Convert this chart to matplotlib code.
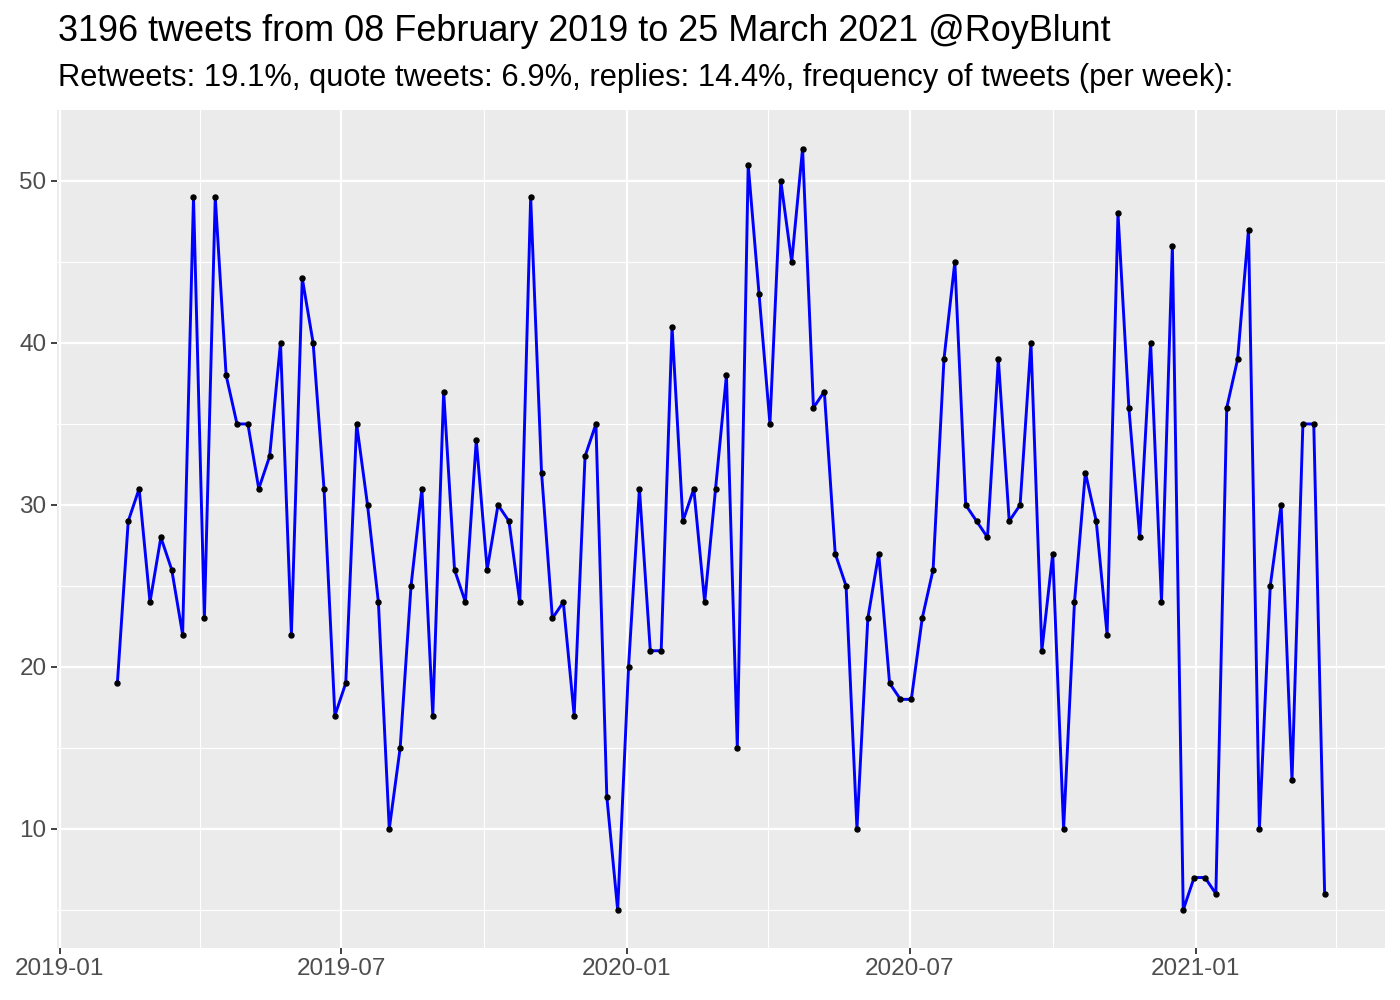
import numpy as np
import pandas as pd
import matplotlib
matplotlib.use("Agg")
import matplotlib.pyplot as plt
import matplotlib.dates as mdates

plt.rcParams['font.family'] = ['Liberation Sans', 'DejaVu Sans']

title = "3196 tweets from 08 February 2019 to 25 March 2021 @RoyBlunt"
subtitle = "Retweets: 19.1%, quote tweets: 6.9%, replies: 14.4%, frequency of tweets (per week):"

first_week = "2019-02-07"
tweets_per_week = [
    19, 29, 31, 24, 28, 26, 22, 49, 23, 49,
    38, 35, 35, 31, 33, 40, 22, 44, 40, 31,
    17, 19, 35, 30, 24, 10, 15, 25, 31, 17,
    37, 26, 24, 34, 26, 30, 29, 24, 49, 32,
    23, 24, 17, 33, 35, 12, 5, 20, 31, 21,
    21, 41, 29, 31, 24, 31, 38, 15, 51, 43,
    35, 50, 45, 52, 36, 37, 27, 25, 10, 23,
    27, 19, 18, 18, 23, 26, 39, 45, 30, 29,
    28, 39, 29, 30, 40, 21, 27, 10, 24, 32,
    29, 22, 48, 36, 28, 40, 24, 46, 5, 7,
    7, 6, 36, 39, 47, 10, 25, 30, 13, 35,
    35, 6,
]
weeks = pd.date_range(first_week, periods=len(tweets_per_week), freq="7D")

x_major = pd.to_datetime(["2019-01-01", "2019-07-01", "2020-01-01", "2020-07-01", "2021-01-01"])
x_minor = pd.to_datetime(["2019-04-01", "2019-10-01", "2020-04-01", "2020-10-01", "2021-04-01"])
y_major = [10, 20, 30, 40, 50]
y_minor = [5, 15, 25, 35, 45]

fig = plt.figure(figsize=(14, 10), dpi=100)
ax = fig.add_axes([57/1400, 52/1000, (1385-57)/1400, (948-110.5)/1000])
ax.set_facecolor("#EBEBEB")
for s in ax.spines.values():
    s.set_visible(False)

ax.plot(weeks, tweets_per_week, color="#0000FF", lw=2.1, zorder=3)
ax.plot(weeks, tweets_per_week, 'o', color="black", ms=3.6, zorder=4)

ax.margins(x=0.05, y=0.05)
ax.set_xticks(x_major)
ax.set_xticks(x_minor, minor=True)
ax.xaxis.set_major_formatter(mdates.DateFormatter("%Y-%m"))
ax.set_yticks(y_major)
ax.set_yticks(y_minor, minor=True)
ax.grid(which="major", color="white", lw=1.6, zorder=1)
ax.grid(which="minor", color="white", lw=0.8, zorder=1)
ax.set_axisbelow(True)
ax.tick_params(which="major", length=4.5, width=1.3, color="#333333",
               labelsize=17.5, labelcolor="#4D4D4D", pad=3)
ax.tick_params(which="minor", length=0)

t1 = fig.text(58/1400, 1 - 41/1000, title, fontsize=22, color="black", ha="left", va="baseline")
t2 = fig.text(58/1400, 1 - 86/1000, subtitle, fontsize=18, color="black", ha="left", va="baseline")

# fit widths to reference layout
fig.canvas.draw()
r = fig.canvas.get_renderer()
for t, target in ((t1, 1053), (t2, 1170)):
    w = t.get_window_extent(r).width
    t.set_fontsize(t.get_fontsize() * target / w)

fig.savefig("out.png", dpi=100)
